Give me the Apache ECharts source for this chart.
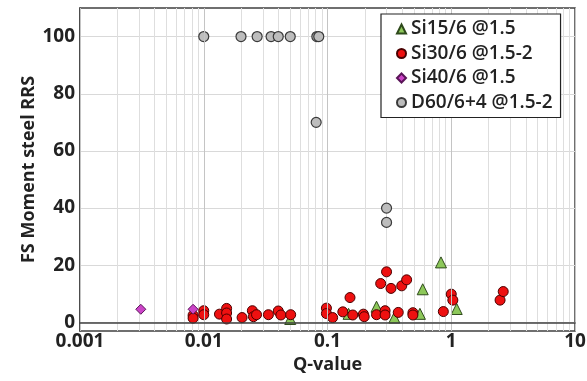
<!DOCTYPE html>
<html>
<head>
<meta charset="utf-8">
<script src="https://cdn.jsdelivr.net/npm/echarts@6/dist/echarts.min.js"></script>
<style>
  html, body { margin: 0; padding: 0; background: #fff; }
  #chart { width: 587px; height: 381px; }
</style>
</head>
<body>
<div id="chart"></div>
<script>
// Si15/6 @1.5
var si15Q = [0.05, 0.148, 0.249, 0.347, 0.558, 0.588, 0.826, 1.107];
var si15V = [1.2, 3.0, 5.5, 1.7, 3.0, 11.6, 21.0, 4.7];

// Si30/6 @1.5-2
var si30Q = [0.0082, 0.0082, 0.01, 0.01, 0.0134, 0.0153, 0.0153, 0.0153, 0.0204, 0.0247,
             0.0252, 0.0267, 0.0333, 0.040, 0.042, 0.0504, 0.098, 0.098, 0.110, 0.133,
             0.152, 0.160, 0.195, 0.198, 0.249, 0.269, 0.292, 0.292, 0.30, 0.326,
             0.373, 0.398, 0.436, 0.49, 0.49, 0.863, 1.0, 1.03, 2.48, 2.63];
var si30V = [2.5, 1.5, 4.1, 2.7, 2.9, 4.9, 3.3, 1.2, 1.7, 4.1,
             2.0, 2.7, 2.7, 4.0, 2.6, 2.7, 5.0, 3.1, 1.7, 3.7,
             8.7, 2.6, 2.9, 2.0, 2.7, 13.6, 4.1, 2.6, 17.7, 11.9,
             3.5, 12.8, 14.9, 3.4, 2.6, 3.8, 9.9, 7.8, 7.8, 10.8];

// Si40/6 @1.5
var si40Q = [0.0031, 0.0082];
var si40V = [4.6, 4.6];

// D60/6+4 @1.5-2
var d60Q = [0.01, 0.02, 0.027, 0.035, 0.04, 0.05, 0.082, 0.085, 0.081, 0.30, 0.30];
var d60V = [100, 100, 100, 100, 100, 100, 100, 100, 70, 40, 35];

var seriesNames = ['Si15/6 @1.5', 'Si30/6 @1.5-2', 'Si40/6 @1.5', 'D60/6+4 @1.5-2'];

// ticks
var xMajorTicks = [0.001, 0.01, 0.1, 1, 10];
var xMinorTicks = [0.002, 0.003, 0.004, 0.005, 0.006, 0.007, 0.008, 0.009,
                   0.02, 0.03, 0.04, 0.05, 0.06, 0.07, 0.08, 0.09,
                   0.2, 0.3, 0.4, 0.5, 0.6, 0.7, 0.8, 0.9,
                   2, 3, 4, 5, 6, 7, 8, 9];
var yTicks = [0, 20, 40, 60, 80, 100];

function pairs(xs, ys) {
    var res = [];
    for (var i = 0; i < xs.length; i++) res.push([xs[i], ys[i]]);
    return res;
}

var font = '"Open Sans", "Liberation Sans", sans-serif';
var myChart = echarts.init(document.getElementById('chart'));

var option = {
    backgroundColor: '#fff',
    animation: false,
    grid: {
        left: 80, right: 12, top: 8, bottom: 50,
        outerBoundsMode: 'none',
        containLabel: false,
        show: true, borderColor: '#404040', borderWidth: 1.5
    },
    legend: {
        orient: 'vertical',
        left: 381, top: 14,
        padding: [5, 8, 5, 15],
        itemGap: 4.5,
        itemWidth: 9, itemHeight: 9,
        backgroundColor: '#fff',
        borderColor: '#222',
        borderWidth: 1.2,
        borderRadius: 0,
        textStyle: { fontFamily: font, fontSize: 19, fontWeight: 600, color: '#222', lineHeight: 20 },
        data: seriesNames
    },
    xAxis: [{
        type: 'log',
        logBase: 10,
        min: 0.001, max: 10,
        name: 'Q-value',
        nameLocation: 'middle',
        nameGap: 24,
        nameTextStyle: { fontFamily: font, fontSize: 18, fontWeight: 'bold', color: '#222' },
        axisLine: { show: true, lineStyle: { color: '#404040', width: 1.5 } },
        axisTick: { show: false, customValues: xMajorTicks },
        axisLabel: {
            customValues: xMajorTicks,
            fontFamily: font, fontSize: 19, fontWeight: 'bold', color: '#222', margin: 1,
            formatter: function (v) { return String(v); }
        },
        splitLine: { show: true, lineStyle: { color: '#c4c4c4', width: 1 } },
        z: 3
    }, {
        type: 'log',
        logBase: 10,
        min: 0.001, max: 10,
        position: 'bottom',
        axisLine: { show: false },
        axisTick: { show: false, customValues: xMinorTicks },
        axisLabel: { show: false, customValues: xMinorTicks },
        splitLine: { show: true, lineStyle: { color: '#dedede', width: 1 } },
        z: 1
    }],
    yAxis: {
        type: 'value',
        min: -3, max: 110,
        name: 'FS Moment steel RRS',
        nameLocation: 'middle',
        nameGap: 42,
        nameMoveOverlap: false,
        nameTextStyle: { fontFamily: font, fontSize: 18, fontWeight: 'bold', color: '#222' },
        axisLine: { show: true, lineStyle: { color: '#404040', width: 1.5 } },
        axisTick: { show: false, customValues: yTicks },
        axisLabel: {
            customValues: yTicks,
            fontFamily: font, fontSize: 19, fontWeight: 'bold', color: '#222', margin: 5
        },
        splitLine: { show: true, lineStyle: { color: '#d9d9d9', width: 1 } }
    },
    series: [
        {
            name: seriesNames[0],
            type: 'scatter',
            xAxisIndex: 0,
            symbol: 'triangle',
            symbolSize: 11,
            itemStyle: { color: '#8dc85a', borderColor: '#2f4a1c', borderWidth: 1, opacity: 1 },
            data: pairs(si15Q, si15V)
        },
        {
            name: seriesNames[1],
            type: 'scatter',
            xAxisIndex: 0,
            symbol: 'circle',
            symbolSize: 10,
            itemStyle: { color: '#ee1010', borderColor: '#4a0000', borderWidth: 1, opacity: 1 },
            data: pairs(si30Q, si30V)
        },
        {
            name: seriesNames[2],
            type: 'scatter',
            xAxisIndex: 0,
            symbol: 'diamond',
            symbolSize: 10,
            itemStyle: { color: '#cc44c8', borderColor: '#5a1458', borderWidth: 1, opacity: 1 },
            data: pairs(si40Q, si40V)
        },
        {
            name: seriesNames[3],
            type: 'scatter',
            xAxisIndex: 0,
            symbol: 'circle',
            symbolSize: 10,
            itemStyle: { color: '#bdbdbd', borderColor: '#3a3a3a', borderWidth: 1.2, opacity: 1 },
            data: pairs(d60Q, d60V)
        }
    ]
};

myChart.setOption(option);
</script>
</body>
</html>
